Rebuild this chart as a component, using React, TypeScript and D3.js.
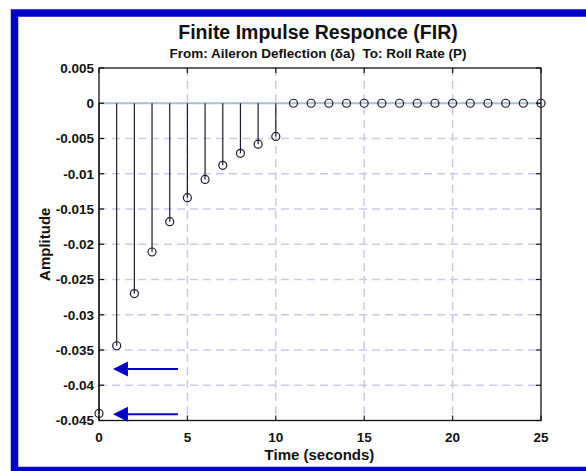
import React from "react";
import * as d3 from "d3";

const times = [0, 1, 2, 3, 4, 5, 6, 7, 8, 9, 10, 11, 12, 13, 14, 15, 16, 17, 18, 19, 20, 21, 22, 23, 24, 25];
const amplitudes = [
  -0.044, -0.0344, -0.027, -0.0211, -0.0168, -0.0134, -0.0108, -0.0088, -0.0071, -0.0058, -0.0047,
  0, 0, 0, 0, 0, 0, 0, 0, 0, 0, 0, 0, 0, 0, 0,
];
const yTicks = [0.005, 0, -0.005, -0.01, -0.015, -0.02, -0.025, -0.03, -0.035, -0.04, -0.045];
const yTickLabels = ["0.005", "0", "-0.005", "-0.01", "-0.015", "-0.02", "-0.025", "-0.03", "-0.035", "-0.04", "-0.045"];
const xTicks = [0, 5, 10, 15, 20, 25];
const xTickLabels = ["0", "5", "10", "15", "20", "25"];
// annotation arrows: [y value, tail time, tip time]
const arrowY = [-0.0377, -0.0441];
const arrowTail = [4.47, 4.47];
const arrowTip = [0.79, 0.79];

const title = "Finite Impulse Responce (FIR)";
const subtitle = "From: Aileron Deflection (\u03b4a)\u00a0 To: Roll Rate (P)";
const xLabel = "Time (seconds)";
const yLabel = "Amplitude";

export default function App() {
  const W = 586;
  const H = 471;
  const left = 99, right = 541, top = 68, bottom = 420.5;
  const x = d3.scaleLinear().domain([0, 25]).range([left, right]);
  const y = d3.scaleLinear().domain([-0.045, 0.005]).range([bottom, top]);
  const font = "'Liberation Sans', Arial, Helvetica, sans-serif";
  const gridColor = "#c9c9e8";
  const stemColor = "#1c1c30";
  const frameBlue = "#0404c8";
  const tickLen = 5;

  return (
    <svg width={W} height={H} style={{ position: "absolute", left: 0, top: 0, background: "#fff" }} fontFamily={font}>
      <rect x={0} y={0} width={W} height={H} fill="#fff" />
      {/* blue frame */}
      <rect x={14.5} y={13} width={640} height={457.5} fill="none" stroke={frameBlue} strokeWidth={7.5} />

      {/* title */}
      <text x={318} y={39} textAnchor="middle" fontSize={19.5} fontWeight="bold" fill="#111">
        {title}
      </text>
      <text x={318} y={57.5} textAnchor="middle" fontSize={13.5} fontWeight="bold" fill="#111">
        {subtitle}
      </text>

      {/* grid */}
      {xTicks.slice(1, -1).map((t) => (
        <line key={"gx" + t} x1={x(t)} x2={x(t)} y1={top} y2={bottom} stroke={gridColor} strokeWidth={1.5} strokeDasharray="8,5" />
      ))}
      {yTicks.slice(1, -1).map((t) => (
        <line key={"gy" + t} x1={left} x2={right} y1={y(t)} y2={y(t)} stroke={gridColor} strokeWidth={1.5} strokeDasharray="8,5" />
      ))}

      {/* baseline */}
      <line x1={x(0)} x2={x(25)} y1={y(0)} y2={y(0)} stroke="#9ec6d6" strokeWidth={2} />

      {/* stems */}
      {times.map((t, i) => (
        <line key={"s" + t} x1={x(t)} x2={x(t)} y1={y(0)} y2={y(amplitudes[i])} stroke={stemColor} strokeWidth={1.2} />
      ))}

      {/* axes box & ticks */}
      <rect x={left} y={top} width={right - left} height={bottom - top} fill="none" stroke="#111" strokeWidth={1.3} />
      {yTicks.map((t) => (
        <g key={"ty" + t}>
          <line x1={left} x2={left + tickLen} y1={y(t)} y2={y(t)} stroke="#111" strokeWidth={1.2} />
          <line x1={right} x2={right - tickLen} y1={y(t)} y2={y(t)} stroke="#111" strokeWidth={1.2} />
        </g>
      ))}
      {xTicks.map((t) => (
        <g key={"tx" + t}>
          <line x1={x(t)} x2={x(t)} y1={bottom} y2={bottom - tickLen} stroke="#111" strokeWidth={1.2} />
          <line x1={x(t)} x2={x(t)} y1={top} y2={top + tickLen} stroke="#111" strokeWidth={1.2} />
        </g>
      ))}

      {/* markers */}
      {times.map((t, i) => (
        <circle key={"m" + t} cx={x(t)} cy={y(amplitudes[i])} r={4} fill="none" stroke={stemColor} strokeWidth={1.2} />
      ))}

      {/* tick labels */}
      {yTicks.map((t, i) => (
        <text key={"ly" + t} x={94} y={y(t)} dy="0.36em" textAnchor="end" fontSize={13.5} fontWeight="bold" fill="#111">
          {yTickLabels[i]}
        </text>
      ))}
      {xTicks.map((t, i) => (
        <text key={"lx" + t} x={x(t)} y={442} textAnchor="middle" fontSize={13.5} fontWeight="bold" fill="#111">
          {xTickLabels[i]}
        </text>
      ))}

      {/* axis labels */}
      <text x={319.5} y={460} textAnchor="middle" fontSize={15} fontWeight="bold" fill="#111">
        {xLabel}
      </text>
      <text transform={`translate(50,${(top + bottom) / 2}) rotate(-90)`} textAnchor="middle" fontSize={15} fontWeight="bold" fill="#111">
        {yLabel}
      </text>

      {/* arrows */}
      {arrowY.map((v, i) => {
        const yy = y(v);
        const tip = x(arrowTip[i]);
        const tail = x(arrowTail[i]);
        const headLen = 15;
        return (
          <g key={"a" + i}>
            <line x1={tail} x2={tip + headLen} y1={yy} y2={yy} stroke={frameBlue} strokeWidth={2} />
            <path d={`M${tip},${yy} L${tip + headLen},${yy - 7.5} L${tip + headLen},${yy + 7.5} Z`} fill={frameBlue} />
          </g>
        );
      })}
    </svg>
  );
}
